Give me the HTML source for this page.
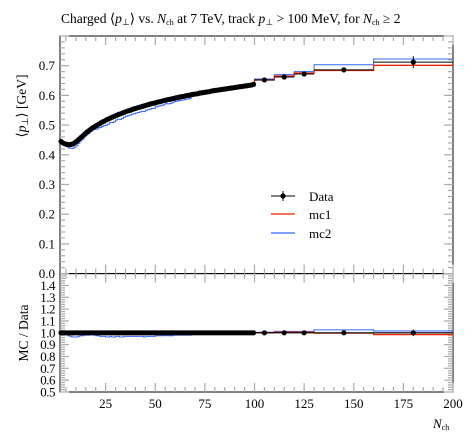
<!DOCTYPE html>
<html><head><meta charset="utf-8"><style>
body{margin:0;background:#fff}
svg{display:block;font-family:"Liberation Serif",serif}
</style></head><body>
<svg id="c" width="473" height="442" viewBox="0 0 473 442"></svg>
<script>
const nchBinsLo=[2,3,4,5,6,7,8,9,10,11,12,13,14,15,16,17,18,19,20,21,22,23,24,25,26,27,28,29,30,31,32,33,34,35,36,37,38,39,40,41,42,43,44,45,46,47,48,49,50,51,52,53,54,55,56,57,58,59,60,61,62,63,64,65,66,67,68,69,70,71,72,73,74,75,76,77,78,79,80,81,82,83,84,85,86,87,88,89,90,91,92,93,94,95,96,97,98,99,100,110,120,130,160];
const nchBinsHi=[3,4,5,6,7,8,9,10,11,12,13,14,15,16,17,18,19,20,21,22,23,24,25,26,27,28,29,30,31,32,33,34,35,36,37,38,39,40,41,42,43,44,45,46,47,48,49,50,51,52,53,54,55,56,57,58,59,60,61,62,63,64,65,66,67,68,69,70,71,72,73,74,75,76,77,78,79,80,81,82,83,84,85,86,87,88,89,90,91,92,93,94,95,96,97,98,99,100,110,120,130,160,200];
const dataVals=[0.445,0.440,0.437,0.435,0.434,0.435,0.437,0.441,0.446,0.452,0.458,0.464,0.470,0.476,0.481,0.486,0.491,0.495,0.499,0.503,0.507,0.511,0.514,0.518,0.521,0.524,0.527,0.530,0.533,0.536,0.538,0.541,0.543,0.546,0.548,0.550,0.553,0.555,0.557,0.559,0.561,0.563,0.565,0.567,0.569,0.571,0.573,0.574,0.576,0.578,0.579,0.581,0.583,0.584,0.586,0.587,0.589,0.590,0.592,0.593,0.595,0.596,0.597,0.599,0.600,0.601,0.603,0.604,0.605,0.606,0.608,0.609,0.610,0.611,0.612,0.613,0.615,0.616,0.617,0.618,0.619,0.620,0.621,0.622,0.623,0.624,0.625,0.626,0.627,0.628,0.629,0.630,0.631,0.632,0.633,0.634,0.635,0.637,0.652,0.662,0.672,0.686,0.712];
const dataErr=[0.004,0.003,0.003,0.003,0.003,0.003,0.003,0.003,0.003,0.003,0.003,0.003,0.003,0.003,0.003,0.003,0.003,0.003,0.003,0.003,0.003,0.003,0.003,0.003,0.003,0.003,0.003,0.003,0.003,0.003,0.003,0.003,0.003,0.003,0.003,0.003,0.003,0.003,0.003,0.003,0.003,0.003,0.003,0.003,0.003,0.003,0.003,0.003,0.003,0.003,0.003,0.003,0.003,0.003,0.003,0.003,0.003,0.003,0.003,0.003,0.003,0.003,0.003,0.003,0.003,0.003,0.003,0.003,0.003,0.003,0.003,0.003,0.003,0.003,0.003,0.003,0.004,0.004,0.004,0.004,0.004,0.004,0.004,0.004,0.004,0.004,0.004,0.004,0.004,0.004,0.004,0.004,0.004,0.004,0.004,0.004,0.004,0.004,0.005,0.006,0.007,0.008,0.020];
const mc1Ratio=[1.0,0.995,0.99,0.985,0.985,0.985,0.985,0.99,0.99,0.99,0.99,0.99,0.995,0.995,0.995,1.0,1.0,1.0,1.0,1.0,1.0,1.0,1.0,1.0,1.0,1.0,1.0,1.0,1.0,1.0,1.0,1.0,1.0,1.0,1.0,1.0,1.0,1.0,1.0,1.0,1.0,1.0,1.0,1.0,1.0,1.0,1.0,1.0,1.0,1.0,1.0,1.0,1.0,1.0,1.0,1.0,1.0,1.0,1.0,1.0,1.0,1.0,1.0,1.0,1.0,1.0,1.0,1.0,1.0,1.0,1.0,1.0,1.0,1.0,1.0,1.0,1.0,1.005,1.005,1.005,1.005,1.005,1.005,1.005,1.005,1.005,1.005,1.005,1.005,1.005,1.005,1.005,1.005,1.005,1.005,1.005,1.005,1.005,1.0,1.005,1.005,0.997,0.985];
const mc2Ratio=[1.0,1.0,0.995,0.99,0.975,0.97,0.965,0.965,0.965,0.97,0.975,0.975,0.98,0.98,0.98,0.985,0.985,0.98,0.975,0.975,0.97,0.97,0.97,0.965,0.965,0.97,0.965,0.965,0.97,0.97,0.965,0.965,0.97,0.97,0.97,0.97,0.97,0.97,0.97,0.97,0.97,0.97,0.965,0.97,0.97,0.97,0.97,0.97,0.975,0.975,0.975,0.975,0.975,0.98,0.975,0.975,0.975,0.98,0.98,0.98,0.98,0.98,0.98,0.98,0.98,0.98,0.99,0.99,0.99,0.99,0.99,0.99,0.99,0.995,0.995,0.995,0.995,0.995,0.995,0.995,0.995,0.995,0.995,0.995,0.995,1.0,1.0,1.0,1.0,1.0,1.0,1.0,1.0,1.0,1.0,1.0,1.0,1.0,1.005,1.012,1.012,1.025,1.015];
const xTicks=[25,50,75,100,125,150,175,200];
const yTicksMain=[0.0,0.1,0.2,0.3,0.4,0.5,0.6,0.7];
const yTicksRatio=[0.5,0.6,0.7,0.8,0.9,1.0,1.1,1.2,1.3,1.4];

const NS="http://www.w3.org/2000/svg";
const svg=document.getElementById('c');
const L=60,R=453,T=36,MB=273.6,RB=392;
const X=v=>L+(v-2)/(200-2)*(R-L);
const Y=v=>MB-v/0.8*(MB-T);
const YR=v=>RB-(v-0.5)/1.0*(RB-MB);
function el(tag,attrs,parent){const e=document.createElementNS(NS,tag);for(const k in attrs)e.setAttribute(k,attrs[k]);(parent||svg).appendChild(e);return e;}

// frames
const fm=el('rect',{x:L,y:T,width:R-L,height:MB-T,fill:'none',stroke:'#000','stroke-width':1});

const fr=el('rect',{x:L,y:MB,width:R-L,height:RB-MB,fill:'none',stroke:'#000','stroke-width':1});


// ticks
const tg=el('g',{stroke:'#aaa','stroke-width':1.2});

for(let v=5;v<=200;v+=5){const x=X(v);const maj=v%25===0;const l=maj?9:5;
 el('line',{x1:x,y1:T,x2:x,y2:T+l},tg);el('line',{x1:x,y1:MB,x2:x,y2:MB-l},tg);
 el('line',{x1:x,y1:MB,x2:x,y2:MB+l},tg);el('line',{x1:x,y1:RB,x2:x,y2:RB-l},tg);}
for(let i=0;i<=40;i++){const v=i*0.02;const y=Y(v);const maj=i%5===0;const l=maj?9:5;
 el('line',{x1:L,y1:y,x2:L+l,y2:y},tg);el('line',{x1:R,y1:y,x2:R-l,y2:y},tg);}
for(let i=0;i<=50;i++){const v=0.5+i*0.02;const y=YR(v);const maj=i%5===0;const l=maj?9:5;
 el('line',{x1:L,y1:y,x2:L+l,y2:y},tg);el('line',{x1:R,y1:y,x2:R-l,y2:y},tg);}

// tick labels
yTicksMain.forEach(v=>{const t=el('text',{x:L-5,y:Y(v)+4.5,'text-anchor':'end','font-size':13});t.textContent=v.toFixed(1);
 });
yTicksRatio.forEach(v=>{const t=el('text',{x:L-5,y:YR(v)+4.5,'text-anchor':'end','font-size':13,'letter-spacing':'-0.5'});t.textContent=v.toFixed(1);
 });
xTicks.forEach(v=>{const t=el('text',{x:X(v),y:RB+16,'text-anchor':'middle','font-size':13});t.textContent=v;
 });

// histogram path
function histPath(vals,fy){let d='';for(let i=0;i<vals.length;i++){const x0=X(nchBinsLo[i]),x1=X(nchBinsHi[i]),y=fy(vals[i]);
 d+=(i===0?'M':'L')+x0+','+y+'L'+x1+','+y;}return d;}
const mc1=dataVals.map((v,i)=>v*mc1Ratio[i]);
const mc2=dataVals.map((v,i)=>v*mc2Ratio[i]);
let p=el('path',{d:histPath(mc2,Y),fill:'none',stroke:'#3366ff','stroke-width':1});
p=el('path',{d:histPath(mc1,Y),fill:'none',stroke:'#ee2200','stroke-width':1.3});
p=el('path',{d:histPath(mc2Ratio,YR),fill:'none',stroke:'#3366ff','stroke-width':1});
p=el('path',{d:histPath(mc1Ratio,YR),fill:'none',stroke:'#ee2200','stroke-width':1.3});
p=el('path',{d:histPath(dataVals.map(()=>1),YR),fill:'none',stroke:'#000','stroke-width':1.2});

// data points
const dg=el('g',{});
dataVals.forEach((v,i)=>{const x0=X(nchBinsLo[i]),x1=X(nchBinsHi[i]),xc=(x0+x1)/2;
 el('line',{x1:x0,x2:x1,y1:Y(v),y2:Y(v),stroke:'#000','stroke-width':1},dg);
 el('line',{x1:xc,x2:xc,y1:Y(v-dataErr[i]),y2:Y(v+dataErr[i]),stroke:'#000','stroke-width':1},dg);
 const c=el('circle',{cx:xc,cy:Y(v),r:2.6,fill:'#000'},dg);
 el('line',{x1:xc,x2:xc,y1:YR(1-dataErr[i]/v),y2:YR(1+dataErr[i]/v),stroke:'#000','stroke-width':1},dg);
 const c2=el('circle',{cx:xc,cy:YR(1),r:2.6,fill:'#000'},dg);});

// legend
const lg=el('g',{});
el('line',{x1:271,x2:295,y1:196,y2:196,stroke:'#000'},lg);el('line',{x1:283,x2:283,y1:191,y2:201,stroke:'#000'},lg);el('circle',{cx:283,cy:196,r:2.6},lg);
let t=el('text',{x:309,y:201,'font-size':13},lg);t.textContent='Data';
el('line',{x1:271,x2:295,y1:214,y2:214,stroke:'#ee2200','stroke-width':1.2},lg);
t=el('text',{x:309,y:219,'font-size':13},lg);t.textContent='mc1';
el('line',{x1:271,x2:295,y1:233,y2:233,stroke:'#3366ff','stroke-width':1.2},lg);
t=el('text',{x:309,y:238,'font-size':13},lg);t.textContent='mc2';
</script>
<svg width="0" height="0"></svg>
<div style="position:absolute;left:0;top:0;width:473px;height:442px;pointer-events:none">
<svg width="473" height="442" style="position:absolute;left:0;top:0;font-family:'Liberation Serif',serif">
<text x="61" y="23" font-size="13.5">Charged ⟨<tspan font-style="italic">p</tspan><tspan font-size="9" dy="2">⊥</tspan><tspan dy="-2">⟩ vs. </tspan><tspan font-style="italic">N</tspan><tspan font-size="8" dy="2">ch</tspan><tspan dy="-2"> at 7 TeV, track </tspan><tspan font-style="italic">p</tspan><tspan font-size="9" dy="2">⊥</tspan><tspan dy="-2"> &gt; 100 MeV, for </tspan><tspan font-style="italic">N</tspan><tspan font-size="8" dy="2">ch</tspan><tspan dy="-2"> ≥ 2</tspan></text>
<text transform="translate(26,106) rotate(-90)" text-anchor="middle" font-size="13.5">⟨<tspan font-style="italic">p</tspan><tspan font-size="9" dy="2">⊥</tspan><tspan dy="-2">⟩   [GeV]</tspan></text>
<text transform="translate(28,333) rotate(-90)" text-anchor="middle" font-size="13.5">MC / Data</text>
<text x="433" y="428" font-size="13" font-style="italic">N<tspan font-size="8" font-style="normal" dy="2">ch</tspan></text>
</svg></div>
</body></html>
